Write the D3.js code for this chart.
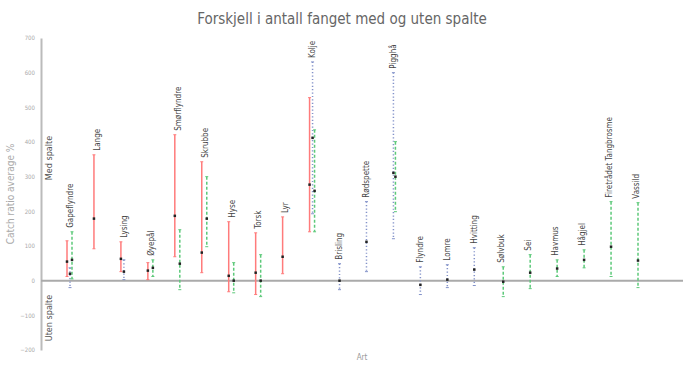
<!DOCTYPE html>
<html><head><meta charset="utf-8">
<script src="https://cdn.jsdelivr.net/npm/d3@7"></script>
<style>body{margin:0;background:#fff}svg{display:block}</style>
</head><body><svg id="c" width="683" height="365"></svg>
<script>
const categories = ["Gapeflyndre","Lange","Lysing","Øyepål","Smørflyndre","Skrubbe","Hyse","Torsk","Lyr","Kolje","Brisling","Rødspette","Pigghå","Flyndre","Lomre","Hvitting","Sølvbuk","Sei","Havmus","Hågjel","Firetrådet Tangbrosme","Vassild"];
const redMean  = [55,179,63,29,187,81,14,23,69,277,null,null,null,null,null,null,null,null,null,null,null,null];
const redLow   = [12,92,26,3,69,23,-32,-40,20,141,null,null,null,null,null,null,null,null,null,null,null,null];
const redHigh  = [115,363,112,52,421,343,170,138,184,528,null,null,null,null,null,null,null,null,null,null,null,null];
const greenMean= [60,null,null,37,49,179,0,0,null,259,null,null,300,null,null,null,-3,23,35,60,98,58];
const greenLow = [5,null,null,12,-26,98,-35,-46,null,141,null,null,199,null,null,null,-46,-23,12,37,12,-20];
const greenHigh= [141,null,null,60,147,300,52,75,null,435,null,null,401,null,null,null,40,75,60,89,228,225];
const blueMean = [20,null,26,null,null,null,null,null,null,412,0,112,311,-12,3,32,null,null,null,null,null,null];
const blueLow  = [-20,null,3,null,null,null,null,null,null,193,-26,26,121,-40,-20,-14,null,null,null,null,null,null];
const blueHigh = [37,null,60,null,null,null,null,null,null,631,49,228,600,40,46,95,null,null,null,null,null,null];
const yTicks = [-200,-100,0,100,200,300,400,500,600,700];

const svg = d3.select("#c");
const font = "'DejaVu Sans Condensed',sans-serif";
const y = d3.scaleLinear().domain([-200,700]).range([350,38]);
const x = d3.scalePoint().domain(categories).range([70,636]);

svg.append("text").attr("x",342).attr("y",24).attr("text-anchor","middle")
  .attr("font-family",font).attr("font-size",15).attr("fill","#666")
  .text("Forskjell i antall fanget med og uten spalte");

// y axis
const yAxis = d3.axisLeft(y).tickValues(yTicks).tickSize(0).tickPadding(6);
const gy = svg.append("g").attr("transform","translate(41,0)").call(yAxis);
gy.select(".domain").attr("stroke","#bbb").attr("stroke-width",2);
gy.selectAll("text").attr("font-family",font).attr("font-size",6).attr("fill","#aaa");

// zero line
svg.append("line").attr("x1",41).attr("x2",683).attr("y1",y(0)).attr("y2",y(0))
  .attr("stroke","#aaa").attr("stroke-width",2);

svg.append("text").attr("transform",`translate(14,${(y(-200)+y(700))/2}) rotate(-90)`)
  .attr("text-anchor","middle").attr("font-family",font).attr("font-size",10).attr("fill","#aaa")
  .text("Catch ratio average %");
svg.append("text").attr("transform",`translate(52,158) rotate(-90)`)
  .attr("text-anchor","middle").attr("font-family",font).attr("font-size",9).attr("fill","#555")
  .text("Med spalte");
svg.append("text").attr("transform",`translate(52,318) rotate(-90)`)
  .attr("text-anchor","middle").attr("font-family",font).attr("font-size",9).attr("fill","#555")
  .text("Uten spalte");
svg.append("text").attr("x",362).attr("y",360).attr("text-anchor","middle")
  .attr("font-family",font).attr("font-size",8).attr("fill","#999").text("Art");

const series = [
  {mean:redMean, lo:redLow, hi:redHigh, color:"#ff7b7b", dash:null, dx:-3, w:1.5},
  {mean:blueMean, lo:blueLow, hi:blueHigh, color:"#8392c9", dash:"1.2,2.2", dx:0, w:1.5},
  {mean:greenMean, lo:greenLow, hi:greenHigh, color:"#5dc97a", dash:"3,2", dx:2, w:1.5}
];
series.forEach(s=>{
  const g = svg.append("g");
  categories.forEach((c,i)=>{
    if(s.mean[i]===null) return;
    const cx = x(c)+s.dx;
    g.append("line").attr("x1",cx).attr("x2",cx).attr("y1",y(s.hi[i])).attr("y2",y(s.lo[i]))
      .attr("stroke",s.color).attr("stroke-width",s.w).attr("stroke-dasharray",s.dash);
    [s.hi[i],s.lo[i]].forEach(v=>g.append("line").attr("x1",cx-1.5).attr("x2",cx+1.5)
      .attr("y1",y(v)).attr("y2",y(v)).attr("stroke",s.color).attr("stroke-width",1));
  });
});
series.forEach(s=>{
  categories.forEach((c,i)=>{
    if(s.mean[i]===null) return;
    svg.append("rect").attr("x",x(c)+s.dx-1.25).attr("y",y(s.mean[i])-1.25)
      .attr("width",2.5).attr("height",2.5).attr("fill","#222");
  });
});
// labels
categories.forEach((c,i)=>{
  const top = d3.max([redHigh[i],greenHigh[i],blueHigh[i]].filter(v=>v!==null));
  svg.append("text").attr("transform",`translate(${x(c)+2.8},${y(top)-4}) rotate(-90)`)
    .attr("font-family",font).attr("font-size",8).attr("fill","#444").text(c);
});
</script></body></html>
